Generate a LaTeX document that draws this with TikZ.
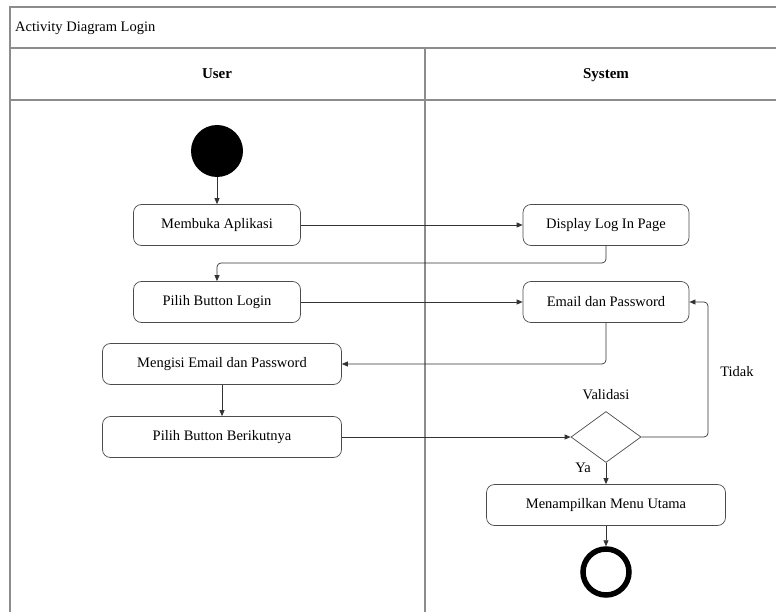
\documentclass[tikz,border=0pt]{standalone}
\usepackage{fontspec}
\setmainfont{Liberation Serif}
\usetikzlibrary{arrows.meta,shapes.geometric}
\begin{document}
\begin{tikzpicture}[x=1pt,y=-1pt,
  frameline/.style={draw=black!45,line width=1.5pt},
  action/.style={draw=black!70,line width=0.7pt,rounded corners=8pt,minimum height=41pt,font=\fontsize{14.5}{16}\selectfont,inner sep=0pt},
  flow/.style={draw=black!80,line width=0.7pt,-{Triangle[length=6pt,width=5pt]},rounded corners=4pt},
  lbl/.style={font=\fontsize{14.5}{16}\selectfont,inner sep=0pt},
  lanehead/.style={font=\fontsize{15}{17}\selectfont\bfseries,inner sep=0pt,anchor=base}]
\useasboundingbox (0,0) rectangle (776,612);
\fill[white] (0,0) rectangle (776,612);
% swimlane frame
\draw[frameline] (10,612) -- (10,7) -- (776,7);
\draw[frameline] (10,48) -- (776,48);
\draw[frameline] (10,100) -- (776,100);
\draw[frameline] (425,48) -- (425,612);
\node[lbl,anchor=west] (title) at (15,28) {Activity Diagram Login};
\node[lanehead] (user) at (217,79) {User};
\node[lanehead] (system) at (606,79) {System};
% nodes
\node[circle,fill=black,minimum size=52pt,inner sep=0pt] (start) at (217,151) {};
\node[action,minimum width=167pt] (buka) at (217,225) {Membuka Aplikasi};
\node[action,minimum width=166pt] (display) at (606,225) {Display Log In Page};
\node[action,minimum width=167pt] (pilihlogin) at (217,302) {Pilih Button Login};
\node[action,minimum width=166pt] (emailpw) at (606,302) {Email dan Password};
\node[action,minimum width=239pt] (mengisi) at (222,364) {Mengisi Email dan Password};
\node[action,minimum width=239pt] (berikut) at (222,437) {Pilih Button Berikutnya};
\node[diamond,draw=black!70,line width=0.7pt,minimum width=70pt,minimum height=51pt,inner sep=0pt] (valid) at (606,437) {};
\node[lbl] (validlbl) at (606,395) {Validasi};
\node[action,minimum width=239pt] (menu) at (606,505) {Menampilkan Menu Utama};
\node[circle,draw=black,line width=5.5pt,minimum size=46pt,inner sep=0pt] (end) at (606,572) {};
\coordinate (c1) at (606,263);
\coordinate (c2) at (217,263);
\coordinate (c3) at (708,437);
\coordinate (c4) at (708,302);
% connectors
\draw[flow] (start) -- (buka);
\draw[flow] (buka) -- (display);
\draw[flow] (display.south) -- (c1) -- (c2) -- (pilihlogin.north);
\draw[flow] (pilihlogin) -- (emailpw);
\draw[flow] (emailpw.south) |- (mengisi.east);
\draw[flow] (mengisi) -- (berikut);
\draw[flow] (berikut) -- (valid.west);
\draw[flow] (valid.east) -- (c3) -- (c4) -- (emailpw.east);
\node[lbl] (tidak) at (737,372) {Tidak};
\draw[flow] (valid.south) -- (menu.north);
\node[lbl] (ya) at (583,468) {Ya};
\draw[flow] (menu.south) -- (end.north);
\end{tikzpicture}
\end{document}
